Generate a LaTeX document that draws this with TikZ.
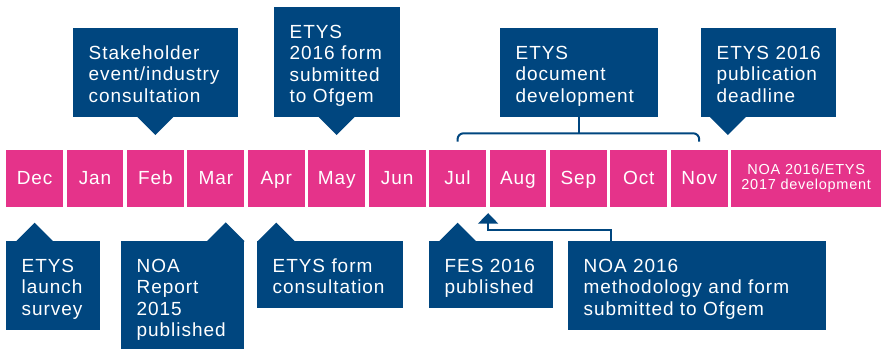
\documentclass[tikz,border=0pt]{standalone}
\usepackage{fontspec}
\setmainfont{Liberation Sans}[LetterSpace=5]
\usetikzlibrary{arrows.meta}
\definecolor{etysblue}{HTML}{00467F}
\definecolor{etyspink}{HTML}{E5338A}

\begin{document}
\begin{tikzpicture}[x=1pt, y=-1pt,
	monthbox/.style={fill=etyspink, text=white, anchor=north west, minimum height=56.7pt, inner sep=0pt},
	month/.style={monthbox, minimum width=56.8pt, font=\fontsize{19}{21.5}\selectfont, text height=13.6pt, text depth=1pt},
	callout/.style={fill=etysblue, anchor=north west, inner sep=0pt},
	calltext/.style={text=white, anchor=base west, align=left, text width=240pt, inner sep=0pt, font=\fontsize{19}{21.5}\selectfont},
	link/.style={draw=etysblue, line width=2pt}]
	\useasboundingbox (0,0) rectangle (881,349);
	% timeline
	\foreach \m [count=\i from 0] in {Dec,Jan,Feb,Mar,Apr,May,Jun,Jul,Aug,Sep,Oct,Nov}
		\node[month] (\m) at ({6+60.42*\i},150) {\m};
	\node[monthbox, minimum width=150pt, align=center, font=\fontsize{14.5}{15}\selectfont] (next) at (731,150) {NOA 2016/ETYS\\2017 development};
	% callout boxes
	\foreach \n/\x/\y/\w/\h/\t in {
		stake/73/28/164.7/88.7/{Stakeholder\\event/industry\\consultation},
		form/274/7/125.7/109.7/{ETYS\\2016 form\\submitted\\to Ofgem},
		docdev/500/28/157.7/88.7/{ETYS\\document\\development},
		deadline/701/28/134.7/88.7/{ETYS 2016\\publication\\deadline},
		survey/6/241/94/89/{ETYS\\launch\\survey},
		report/121/241/123/108/{NOA\\Report\\2015\\published},
		consult/257/241/146/66.7/{ETYS form\\consultation},
		fes/429/241/124/66.7/{FES 2016\\published},
		method/568/241/257.7/88.7/{NOA 2016\\methodology and form\\submitted to Ofgem}} {
		\node[callout, minimum width=\w pt, minimum height=\h pt] (\n) at (\x,\y) {};
		\node[calltext] (\n-text) at ([xshift=15.5pt, yshift=-31pt]\n.north west) {\t};
	}
	% pointers above the timeline
	\foreach \p in {Feb.north, May.north, Nov.north east}
		\fill[etysblue] ([yshift=15pt]\p) -- ++(-19,-19) -- ++(38,0) -- cycle;
	% pointers below the timeline
	\foreach \p in {Dec.south, Apr.south, Jul.south}
		\fill[etysblue] ([yshift=-15.6pt]\p) -- ++(-19,19) -- ++(38,0) -- cycle;
	\fill[etysblue] ([xshift=-18.7pt, yshift=18.7pt]report.north east) -- ++(-19,19) -- ++(38,0) -- cycle;
	% bracket for document development
	\coordinate (bracetop) at ([yshift=16.7pt]Nov.north);
	\draw[link, rounded corners=6pt] ([yshift=8.3pt]Jul.north) |- (bracetop) -- ([yshift=8.3pt]Nov.north);
	\draw[link] (docdev.south) -- (docdev.south |- bracetop);
	% methodology arrow
	\coordinate (julaug) at ([xshift=2pt, yshift=-6pt]Jul.south east);
	\draw[link, -{Triangle[width=20pt, length=10.6pt]}] ([xshift=43pt]method.north west) -- ++(0,-11) -| (julaug);
\end{tikzpicture}
\end{document}
